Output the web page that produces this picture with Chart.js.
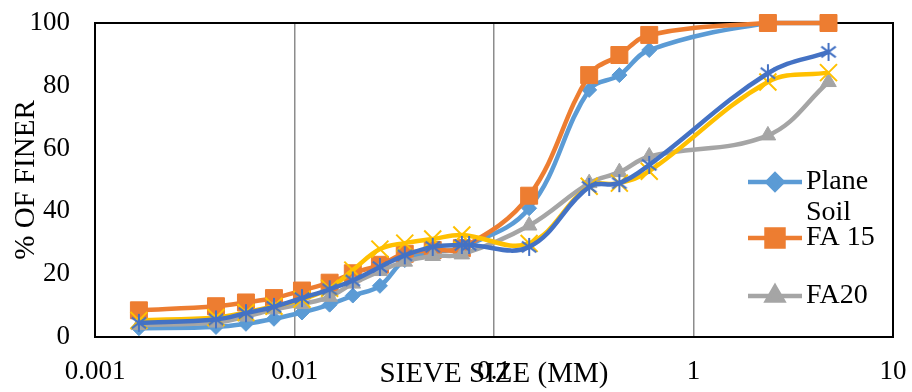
<!DOCTYPE html>
<html><head><meta charset="utf-8">
<script src="https://cdn.jsdelivr.net/npm/chart.js@4/dist/chart.umd.min.js"></script>
<style>html,body{margin:0;padding:0;background:#fff;}#wrap{width:912px;height:392px;position:relative;}</style>
</head><body><div id="wrap"><canvas id="c" width="912" height="392"></canvas></div>
<script>
// grain sizes (mm): hydrometer readings, 0.075 sieve, then sieves
const sieveSizes = [0.00166, 0.00404, 0.00571, 0.00789, 0.0109, 0.0150, 0.0196, 0.0268, 0.0357, 0.0493, 0.069, 0.075, 0.15, 0.3, 0.425, 0.6, 2.36, 4.75];
const plainSoil = [2.8, 3.2, 4.2, 5.8, 7.8, 10.3, 13.2, 16.3, 24.5, 27.0, 28.5, null, 41.0, 78.7, 83.4, 91.4, 100, 100];
const fa15      = [8.5, 9.8, 11.0, 12.4, 14.8, 17.3, 20.3, 23.0, 26.5, 27.7, 28.3, null, 45.0, 83.4, 89.8, 96.2, 100, 100];
const fa20      = [3.8, 4.6, 6.5, 8.8, 10.5, 12.8, 17.0, 21.0, 24.0, 25.8, 26.3, null, 35.5, 49.0, 52.5, 57.5, 64.2, 81.2];
const fa25      = [5.3, 6.2, 7.8, 9.8, 12.0, 15.5, 21.3, 28.0, 29.9, 31.2, 32.5, null, 29.8, 48.0, 49.0, 52.8, 81.2, 84.2];
const fa30      = [4.5, 5.6, 7.6, 9.6, 12.4, 15.2, 18.0, 22.3, 26.0, 28.7, 29.3, 29.3, 28.7, 47.8, 49.0, 54.8, 84.0, 90.8];
const seriesLabels = ['Plane Soil', 'FA 15', 'FA20', 'FA 25', 'FA 30'];
const xTickValues = [0.001, 0.01, 0.1, 1, 10];
const yTickValues = [0, 20, 40, 60, 80, 100];
const xTitle = 'SIEVE SIZE (MM)';
const yTitle = '% OF FINER';
const legendShown = 3;

const FONT = "'Liberation Serif','Times New Roman',serif";
const colors = ['#5B9BD5', '#ED7D31', '#A5A5A5', '#FFC000', '#4472C4'];

// asterisk marker (vertical + X)
function makeAsterisk(color) {
  const s = 20, c = document.createElement('canvas');
  c.width = s; c.height = s;
  const g = c.getContext('2d');
  g.strokeStyle = color; g.lineWidth = 2; g.lineCap = 'butt';
  const m = s / 2, r = 9;
  g.beginPath();
  g.moveTo(m, m - r); g.lineTo(m, m + r);
  const d = r * 0.8;
  g.moveTo(m - d, m - d * 0.75); g.lineTo(m + d, m + d * 0.75);
  g.moveTo(m - d, m + d * 0.75); g.lineTo(m + d, m - d * 0.75);
  g.stroke();
  return c;
}
const asterisk = makeAsterisk(colors[4]);

const styles = [
  {pointStyle: 'rectRot', radius: 7.5, bw: 1},
  {pointStyle: 'rect', radius: 12, bw: 1},
  {pointStyle: 'triangle', radius: 9, bw: 1},
  {pointStyle: 'crossRot', radius: 12, bw: 2},
  {pointStyle: asterisk, radius: 9, bw: 2}
];
const allValues = [plainSoil, fa15, fa20, fa25, fa30];

const datasets = allValues.map((vals, i) => ({
  label: seriesLabels[i],
  data: sieveSizes.map((x, j) => ({x: x, y: vals[j]})).filter(p => p.y !== null),
  borderColor: colors[i],
  backgroundColor: colors[i],
  pointBackgroundColor: colors[i],
  pointBorderColor: colors[i],
  pointStyle: styles[i].pointStyle,
  pointRadius: styles[i].radius,
  pointBorderWidth: styles[i].bw,
  pointHoverRadius: styles[i].radius,
  borderWidth: 4.5,
  tension: 0.38,
  showLine: true,
  fill: false,
  clip: false,
  order: 5 - i
}));

const framePlugin = {
  id: 'frame',
  beforeDatasetsDraw(chart) {
    const {ctx, chartArea: a} = chart;
    ctx.save();
    ctx.strokeStyle = '#000'; ctx.lineWidth = 2;
    ctx.strokeRect(a.left, a.top, a.right - a.left, a.bottom - a.top);
    ctx.restore();
  }
};

const legendPlugin = {
  id: 'customLegend',
  afterDraw(chart) {
    const {ctx, chartArea: a} = chart;
    const x0 = a.right - 145, x1 = a.right - 91, tx = a.right - 87;
    // "Plane Soil" wraps into two lines
    const rows = [
      {y: a.top + 159, lines: ['Plane', 'Soil']},
      {y: a.top + 215, lines: [seriesLabels[1]]},
      {y: a.top + 273, lines: [seriesLabels[2]]}
    ];
    ctx.save();
    for (let i = 0; i < legendShown; i++) {
      const r = rows[i];
      ctx.strokeStyle = colors[i]; ctx.lineWidth = 4.5;
      ctx.beginPath(); ctx.moveTo(x0, r.y); ctx.lineTo(x1, r.y); ctx.stroke();
      ctx.fillStyle = colors[i]; ctx.strokeStyle = colors[i];
      Chart.helpers.drawPoint(ctx, {pointStyle: styles[i].pointStyle, radius: styles[i].radius, rotation: 0, borderWidth: styles[i].bw}, (x0 + x1) / 2, r.y);
      ctx.fillStyle = '#000';
      ctx.font = '28px ' + FONT;
      ctx.textBaseline = 'middle'; ctx.textAlign = 'left';
      r.lines.forEach((t, k) => ctx.fillText(t, tx, r.y + k * 31));
    }
    ctx.restore();
  }
};

new Chart(document.getElementById('c'), {
  type: 'scatter',
  data: {datasets: datasets},
  options: {
    responsive: false,
    animation: false,
    layout: {padding: {top: 23, right: 19, left: 0, bottom: 0}},
    plugins: {legend: {display: false}, tooltip: {enabled: false}},
    scales: {
      x: {
        type: 'logarithmic',
        min: 0.001, max: 10,
        afterBuildTicks: s => { s.ticks = xTickValues.map(v => ({value: v, major: true})); },
        afterFit: s => { s.height = 55; s.paddingLeft = 0; s.paddingRight = 0; },
        ticks: {
          autoSkip: false, maxRotation: 0, padding: 19, color: '#000',
          font: {family: FONT, size: 27},
          callback: v => String(v)
        },
        grid: {color: '#8c8c8c', lineWidth: 1.5, drawTicks: false},
        border: {display: false},
        title: {display: true, text: xTitle, color: '#000', font: {family: FONT, size: 29, lineHeight: 1}, padding: {top: 0, bottom: 3.5}}
      },
      y: {
        min: 0, max: 100,
        afterBuildTicks: s => { s.ticks = yTickValues.map(v => ({value: v})); },
        afterFit: s => { s.width = 95; s.paddingTop = 0; s.paddingBottom = 0; },
        ticks: {padding: 25, color: '#000', font: {family: FONT, size: 27}},
        grid: {display: false, drawTicks: false},
        border: {display: false},
        title: {display: true, text: yTitle, color: '#000', font: {family: FONT, size: 29, lineHeight: 1}, padding: {top: 11.5, bottom: 0}}
      }
    }
  },
  plugins: [framePlugin, legendPlugin]
});
</script></body></html>
